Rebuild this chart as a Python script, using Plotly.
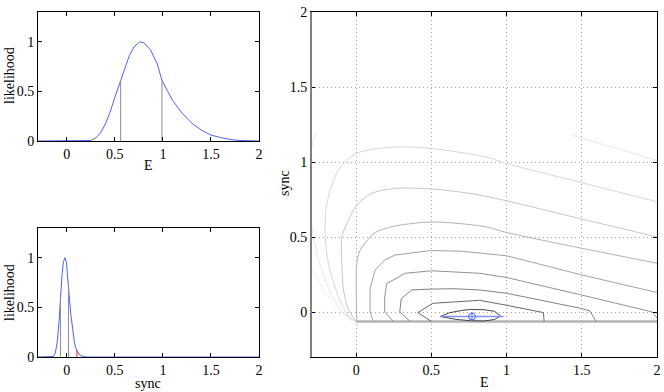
import plotly.graph_objects as go

# marginal likelihood of E
E_vals = [-0.3, 0.2, 0.25, 0.3, 0.35, 0.4, 0.45, 0.5, 0.56, 0.6, 0.65, 0.7, 0.76, 0.8, 0.87,
          0.94, 0.99, 1.05, 1.1, 1.2, 1.3, 1.4, 1.5, 1.6, 1.7, 1.8, 1.9, 2.0]
E_lik = [0, 0, 0.005, 0.03, 0.08, 0.17, 0.29, 0.44, 0.61, 0.73, 0.86, 0.95, 1.0, 0.99, 0.92,
         0.78, 0.61, 0.5, 0.41, 0.28, 0.18, 0.11, 0.06, 0.035, 0.015, 0.005, 0.0, 0.0]
E_ci = [0.56, 0.99]
E_ci_lik = [0.61, 0.61]

# marginal likelihood of sync
sync_vals = [-0.3, -0.17, -0.14, -0.12, -0.1, -0.08, -0.066, -0.05, -0.035, -0.02, -0.005, 0.01,
             0.025, 0.04, 0.06, 0.08, 0.1, 0.125, 0.15, 0.2, 2.0]
sync_lik = [0, 0, 0.005, 0.04, 0.15, 0.37, 0.6, 0.83, 0.96, 1.0, 0.96, 0.82,
            0.62, 0.44, 0.26, 0.14, 0.07, 0.03, 0.012, 0.0, 0.0]
sync_ci = [-0.066, 0.017]
sync_ci_lik = [0.6, 0.73]
sync_mark = [0.105]
sync_mark_lik = [0.07]

# best fit with ranges
best_E = 0.77
best_sync = -0.03
E_lo, E_hi = 0.56, 0.98
sync_lo, sync_hi = -0.058, 0.0

# contour lines of the joint likelihood (inner to outer)
c1_E = [0.56, 0.62, 0.7, 0.76, 0.85, 0.92, 0.96, 0.92, 0.85, 0.76, 0.67, 0.56]
c1_s = [-0.03, -0.005, 0.01, 0.017, 0.015, 0.005, -0.027, -0.05, -0.06, -0.058, -0.05, -0.03]
c2_E = [0.5, 0.41, 0.51, 0.74, 0.82, 1.0, 1.23, 1.245, 1.25]
c2_s = [-0.063, -0.004, 0.058, 0.076, 0.078, 0.045, 0.002, -0.004, -0.063]
c3_E = [0.36, 0.29, 0.3, 0.37, 0.5, 0.65, 0.82, 1.0, 1.49, 1.555, 1.595]
c3_s = [-0.063, 0.0, 0.09, 0.147, 0.153, 0.155, 0.147, 0.125, 0.025, 0.007, -0.063]
c4_E = [0.248, 0.19, 0.19, 0.204, 0.326, 0.5, 0.82, 1.0, 1.5, 1.97, 2.0]
c4_s = [-0.063, 0.0, 0.1, 0.19, 0.258, 0.275, 0.258, 0.23, 0.113, 0.0, -0.04]
c5_E = [0.115, 0.093, 0.093, 0.126, 0.19, 0.26, 0.5, 0.7, 1.0, 1.5, 2.0]
c5_s = [-0.063, 0.0, 0.158, 0.28, 0.347, 0.38, 0.41, 0.405, 0.375, 0.247, 0.13]
c6_E = [0.004, 0.004, 0.0, 0.004, 0.027, 0.093, 0.126, 0.237, 0.5, 0.857, 1.0, 1.5, 2.0]
c6_s = [-0.063, 0.0, 0.213, 0.324, 0.413, 0.5, 0.53, 0.569, 0.6, 0.569, 0.53, 0.425, 0.325]
c7_E = [0.0, -0.05, -0.084, -0.095, -0.095, -0.05, 0.004, 0.1, 0.26, 0.5, 0.82, 1.5, 2.0]
c7_s = [-0.063, 0.013, 0.147, 0.324, 0.5, 0.613, 0.713, 0.79, 0.824, 0.82, 0.78, 0.62, 0.5]
c8_E = [0.0, -0.05, -0.117, -0.184, -0.205, -0.195, -0.117, 0.004, 0.26, 0.5, 0.857, 1.0, 1.5, 2.0]
c8_s = [-0.063, -0.03, 0.1, 0.324, 0.5, 0.724, 0.947, 1.058, 1.1, 1.09, 1.035, 0.99, 0.862, 0.735]
c9a_E = [-0.3, -0.27]
c9a_s = [1.08, 1.19]
c9b_E = [1.43, 2.0]
c9b_s = [1.18, 1.01]
c9c_E = [-0.3, -0.28, -0.206, -0.117, -0.03]
c9c_s = [0.62, 0.47, 0.213, 0.036, -0.058]
c10_E = [-0.3, -0.2, -0.1, -0.02]
c10_s = [0.3, 0.12, 0.0, -0.06]
edge_E = [0.0, 2.0]
edge_s = [-0.063, -0.063]

# (E, sync, colour, smooth)
contours = [
    (c10_E, c10_s, "#f0f0f0", True),
    (c9a_E, c9a_s, "#e6e6e6", True),
    (c9b_E, c9b_s, "#e6e6e6", True),
    (c9c_E, c9c_s, "#e6e6e6", True),
    (c8_E, c8_s, "#d6d6d6", True),
    (c7_E, c7_s, "#c6c6c6", True),
    (c6_E, c6_s, "#b2b2b2", True),
    (c5_E, c5_s, "#a2a2a2", False),
    (c4_E, c4_s, "#929292", False),
    (c3_E, c3_s, "#828282", False),
    (c2_E, c2_s, "#6a6a6a", False),
    (c1_E, c1_s, "#444444", False),
]

blue = "#4a62ff"
ci_gray = "#8c8c8c"
font = dict(family="Liberation Serif", size=14, color="black")

fig = go.Figure()

# top left: E
fig.add_trace(go.Scatter(x=E_vals, y=E_lik, mode="lines", line=dict(color=blue, width=1),
                         xaxis="x", yaxis="y"))
for xv, yv in zip(E_ci, E_ci_lik):
    fig.add_trace(go.Scatter(x=[xv, xv], y=[0, yv], mode="lines", line=dict(color=ci_gray, width=1),
                             xaxis="x", yaxis="y"))

# bottom left: sync
fig.add_trace(go.Scatter(x=sync_vals, y=sync_lik, mode="lines", line=dict(color=blue, width=1),
                         xaxis="x2", yaxis="y2"))
for xv, yv in zip(sync_ci, sync_ci_lik):
    fig.add_trace(go.Scatter(x=[xv, xv], y=[0, yv], mode="lines", line=dict(color=ci_gray, width=1),
                             xaxis="x2", yaxis="y2"))
for xv, yv in zip(sync_mark, sync_mark_lik):
    fig.add_trace(go.Scatter(x=[xv, xv], y=[0, yv], mode="lines", line=dict(color="#e03030", width=1),
                             xaxis="x2", yaxis="y2"))

# right: joint contours
fig.add_trace(go.Scatter(x=edge_E, y=edge_s, mode="lines", line=dict(color="#b4b4b4", width=2.5),
                         xaxis="x3", yaxis="y3"))
for ce, cs, col, smooth in contours:
    line = dict(color=col, width=1)
    if smooth:
        line.update(shape="spline", smoothing=0.8)
    fig.add_trace(go.Scatter(x=ce, y=cs, mode="lines", line=line, xaxis="x3", yaxis="y3"))
fig.add_trace(go.Scatter(
    x=[best_E], y=[best_sync], mode="markers",
    marker=dict(symbol="circle-open", size=7, color=blue, line=dict(width=1)),
    error_x=dict(type="data", symmetric=False, array=[E_hi - best_E], arrayminus=[best_E - E_lo],
                 color="#7f91ff", thickness=1.5, width=0),
    error_y=dict(type="data", symmetric=False, array=[sync_hi - best_sync],
                 arrayminus=[best_sync - sync_lo], color="#7f91ff", thickness=1.5, width=0),
    xaxis="x3", yaxis="y3"))

W, H = 664, 392
axis_common = dict(showline=True, linecolor="black", linewidth=1, mirror="ticks", ticks="inside",
                   ticklen=4, tickcolor="black", zeroline=False, tickfont=font, automargin=False)
ticks5 = dict(tickvals=[0, 0.5, 1, 1.5, 2], ticktext=["0", "0.5", "1", "1.5", "2"])
ticks3 = dict(tickvals=[0, 0.5, 1], ticktext=["0", "0.5", "1"])
grid = dict(showgrid=True, gridcolor="#a8a8a8", griddash="1px,3px", gridwidth=1)

fig.update_layout(
    width=W, height=H, margin=dict(l=0, r=0, t=0, b=0), font=font,
    paper_bgcolor="white", plot_bgcolor="white", showlegend=False,
    xaxis=dict(domain=[38 / W, 259 / W], range=[-0.3, 2], showgrid=False, anchor="y",
               **ticks5, **axis_common),
    yaxis=dict(domain=[1 - 141 / H, 1 - 12 / H], range=[0, 1.3], showgrid=False, anchor="x",
               **ticks3, **axis_common),
    xaxis2=dict(domain=[38 / W, 259 / W], range=[-0.3, 2], showgrid=False, anchor="y2",
                **ticks5, **axis_common),
    yaxis2=dict(domain=[1 - 357 / H, 1 - 228 / H], range=[0, 1.3], showgrid=False, anchor="x2",
                **ticks3, **axis_common),
    xaxis3=dict(domain=[311 / W, 657 / W], range=[-0.3, 2], anchor="y3",
                **ticks5, **grid, **axis_common),
    yaxis3=dict(domain=[1 - 357 / H, 1 - 12 / H], range=[-0.3, 2], anchor="x3",
                **ticks5, **grid, **axis_common),
)

# grey left edge on the contour panel, as in the reference
fig.add_shape(type="line", xref="paper", yref="paper", x0=311 / W, x1=311 / W,
              y0=1 - 357 / H, y1=1 - 12 / H, line=dict(color="#808080", width=2))

# axis titles placed where the reference has them
titles = [("E", 148, 165, 0), ("likelihood", 9, 76, -90), ("sync", 148, 383, 0),
          ("likelihood", 9, 293, -90), ("E", 484, 382, 0), ("sync", 284, 183, -90)]
for txt, px, py, ang in titles:
    fig.add_annotation(text=txt, x=px / W, y=1 - py / H, xref="paper", yref="paper",
                       showarrow=False, textangle=ang, font=font, xanchor="center", yanchor="middle")

fig.write_html("out.html", config={"displayModeBar": False},
               post_script="document.body.style.margin='0';")
